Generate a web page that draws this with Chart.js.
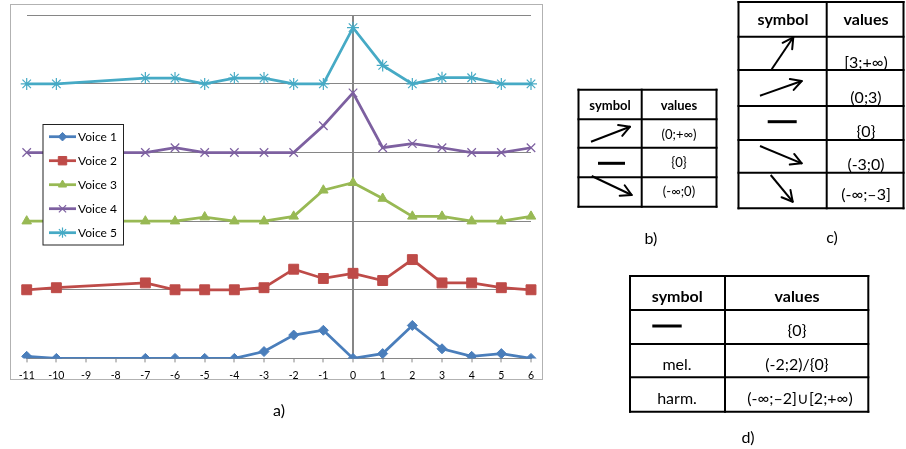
<!DOCTYPE html>
<html>
<head>
<meta charset="utf-8">
<script src="https://cdn.jsdelivr.net/npm/chart.js@4/dist/chart.umd.min.js"></script>
<style>
    body { margin: 0; background: #fff; width: 906px; height: 449px; overflow: hidden; position: relative; font-family: Lato, 'Open Sans', sans-serif; }
    #frame { position: absolute; left: 10px; top: 4px; width: 531px; height: 374px; border: 1.5px solid #b2b2b2; pointer-events: none; }
    #chart { position: absolute; left: 10px; top: 4px; }
    #tables { position: absolute; left: 0; top: 0; }
</style>
</head>
<body>
<canvas id="chart" width="533" height="385"></canvas>
<div id="frame"></div>
<svg id="tables" width="906" height="449" xmlns="http://www.w3.org/2000/svg"></svg>
<script>
// x categories (-9 and -8 have no points)
const positions = ['-11', '-10', '-9', '-8', '-7', '-6', '-5', '-4', '-3', '-2', '-1', '0', '1', '2', '3', '4', '5', '6'];
const voiceNames = ['Voice 1', 'Voice 2', 'Voice 3', 'Voice 4', 'Voice 5'];
// each voice is drawn on its own band, one gridline apart
const voiceBaselines = [0, 1, 2, 3, 4];

const voice1 = [0.03, 0, null, null, 0, 0, 0, 0, 0.10, 0.34, 0.41, 0, 0.07, 0.48, 0.14, 0.03, 0.07, 0];
const voice2 = [0, 0.03, null, null, 0.10, 0, 0, 0, 0.03, 0.30, 0.165, 0.24, 0.135, 0.44, 0.10, 0.10, 0.03, 0];
const voice3 = [0, 0, null, null, 0, 0, 0.06, 0, 0, 0.07, 0.45, 0.56, 0.33, 0.07, 0.07, 0, 0, 0.07];
const voice4 = [0, 0, null, null, 0, 0.07, 0, 0, 0, 0, 0.39, 0.87, 0.07, 0.13, 0.07, 0, 0, 0.07];
const voice5 = [0, 0, null, null, 0.085, 0.085, 0, 0.085, 0.085, 0, 0, 0.82, 0.27, 0, 0.09, 0.09, 0, 0];

const voiceValues = [voice1, voice2, voice3, voice4, voice5];
const voiceColors = ['#4a7ebb', '#be4b48', '#98b954', '#7d60a0', '#46aac5'];
const voiceMarkers = [
    { style: 'rectRot', radius: 5, width: 1 },
    { style: 'rect', radius: 7, width: 1 },
    { style: 'triangle', radius: 5.5, width: 1 },
    { style: 'crossRot', radius: 6, width: 1.2 },
    { style: 'star', radius: 6, width: 1.2 }
];

const datasets = voiceNames.map((name, i) => ({
    label: name,
    data: voiceValues[i].map(v => v === null ? null : v + voiceBaselines[i]),
    borderColor: voiceColors[i],
    backgroundColor: voiceColors[i],
    borderWidth: 2.75,
    pointStyle: voiceMarkers[i].style,
    pointRadius: voiceMarkers[i].radius,
    pointBorderWidth: voiceMarkers[i].width,
    pointBackgroundColor: voiceColors[i],
    pointBorderColor: voiceColors[i],
    spanGaps: true,
    tension: 0
}));

// legend box drawn inside the plot, like the original
const boxLegend = {
    id: 'boxLegend',
    afterDraw(chart) {
        const ctx = chart.ctx;
        const left = 33, top = 120.5, width = 80.5, height = 120.5;
        ctx.save();
        ctx.fillStyle = '#fff';
        ctx.fillRect(left, top, width, height);
        ctx.strokeStyle = '#222';
        ctx.lineWidth = 1;
        ctx.strokeRect(left, top, width, height);
        chart.data.datasets.forEach((ds, i) => {
            const y = 132.7 + i * 24;
            ctx.strokeStyle = ds.borderColor;
            ctx.lineWidth = 2.75;
            ctx.beginPath();
            ctx.moveTo(39, y);
            ctx.lineTo(66, y);
            ctx.stroke();
            ctx.fillStyle = ds.backgroundColor;
            ctx.lineWidth = ds.pointBorderWidth;
            Chart.helpers.drawPoint(ctx, {
                pointStyle: ds.pointStyle,
                radius: ds.pointRadius * 0.85,
                borderWidth: ds.pointBorderWidth,
                rotation: 0
            }, 52.5, y);
            ctx.fillStyle = '#000';
            ctx.font = '12px Lato';
            ctx.textBaseline = 'middle';
            ctx.fillText(ds.label, 68, y + 0.5);
        });
        ctx.restore();
    }
};

new Chart(document.getElementById('chart'), {
    type: 'line',
    data: { labels: positions, datasets: datasets },
    options: {
        responsive: false,
        animation: false,
        layout: { padding: { left: 16.7, right: 12, top: 11.3, bottom: 0 } },
        plugins: {
            legend: { display: false },
            tooltip: { enabled: false }
        },
        scales: {
            x: {
                type: 'category',
                offset: false,
                grid: {
                    color: ctx => (ctx.tick && ctx.tick.label === '0') ? '#868686' : 'transparent',
                    lineWidth: 2,
                    tickColor: '#868686',
                    tickLength: 4,
                    tickWidth: 1
                },
                border: { color: '#868686', width: 1 },
                ticks: {
                    color: '#000',
                    font: { family: 'Lato', size: 10.5 },
                    maxRotation: 0,
                    autoSkip: false,
                    padding: 7
                }
            },
            y: {
                min: 0,
                max: 5,
                ticks: { stepSize: 1, display: false },
                grid: { color: '#868686', lineWidth: 1, drawTicks: false },
                border: { display: false }
            }
        }
    },
    plugins: [boxLegend]
});

// ---- symbol tables b), c), d) ----
const svg = document.getElementById('tables');
const NS = 'http://www.w3.org/2000/svg';

function add(tag, attrs, text) {
    const el = document.createElementNS(NS, tag);
    Object.keys(attrs).forEach(k => el.setAttribute(k, attrs[k]));
    if (text !== undefined) el.textContent = text;
    svg.appendChild(el);
    return el;
}

function grid(xs, ys) {
    xs.forEach(x => add('line', { x1: x, y1: ys[0] - 1, x2: x, y2: ys[ys.length - 1] + 1, stroke: '#000', 'stroke-width': 2 }));
    ys.forEach(y => add('line', { x1: xs[0] - 1, y1: y, x2: xs[xs.length - 1] + 1, y2: y, stroke: '#000', 'stroke-width': 2 }));
}

function label(x, y, text, size, bold) {
    add('text', {
        x: x, y: y, 'font-family': 'Lato, sans-serif', 'font-size': size,
        'font-weight': bold ? 'bold' : 'normal', 'text-anchor': 'middle', 'dominant-baseline': 'central', fill: '#000'
    }, text);
}

function arrow(x1, y1, x2, y2) {
    add('line', { x1: x1, y1: y1, x2: x2, y2: y2, stroke: '#000', 'stroke-width': 2 });
    const a = Math.atan2(y2 - y1, x2 - x1);
    [0.5, -0.5].forEach(d => {
        add('line', {
            x1: x2, y1: y2,
            x2: x2 - 12 * Math.cos(a + d), y2: y2 - 12 * Math.sin(a + d),
            stroke: '#000', 'stroke-width': 2, 'stroke-linecap': 'round'
        });
    });
}

function dash(x1, x2, y) {
    add('line', { x1: x1, y1: y, x2: x2, y2: y, stroke: '#000', 'stroke-width': 3 });
}

// b)
grid([578.5, 641.7, 716.5], [89.7, 119.3, 147.7, 177.3, 206.7]);
label(610, 105, 'symbol', 13, true);
label(679, 105, 'values', 13, true);
label(679, 134, '(0;+∞)', 13);
label(679, 162, '{0}', 13);
label(679, 191, '(-∞;0)', 13);
arrow(591, 141.7, 630, 126.7);
dash(598, 625, 163.3);
arrow(591.7, 176, 631.7, 195);
label(651, 237, 'b)', 16);

// c)
grid([738.5, 826.7, 903.5], [2, 36.7, 70, 106, 140, 172.7, 208.3]);
label(783, 18.5, 'symbol', 16, true);
label(866, 18.5, 'values', 16, true);
label(866, 61.5, '[3;+∞)', 16);
label(866, 96.5, '(0;3)', 16);
label(866, 130, '{0}', 16);
label(866, 163, '(-3;0)', 16);
label(866, 193.5, '(-∞;–3]', 16);
arrow(771.7, 69.3, 793.3, 37.3);
arrow(760, 95.7, 801.7, 81);
dash(767.7, 796.7, 121.7);
arrow(760, 146, 801.7, 163.3);
arrow(770.7, 175, 792.7, 201.7);
label(832, 236, 'c)', 16);

// d)
grid([630, 725, 868.3], [276, 310, 344, 377.3, 411.7]);
label(677.3, 295, 'symbol', 16, true);
label(797, 295, 'values', 16, true);
dash(652.3, 681.7, 326);
label(797, 329, '{0}', 16);
label(677, 363, 'mel.', 16);
label(797, 363, '(-2;2)/{0}', 16);
label(677, 397, 'harm.', 16);
label(800, 397, '(-∞;–2]∪[2;+∞)', 16);
label(748, 436, 'd)', 16);

// a)
label(279, 409, 'a)', 16);
</script>
</body>
</html>
